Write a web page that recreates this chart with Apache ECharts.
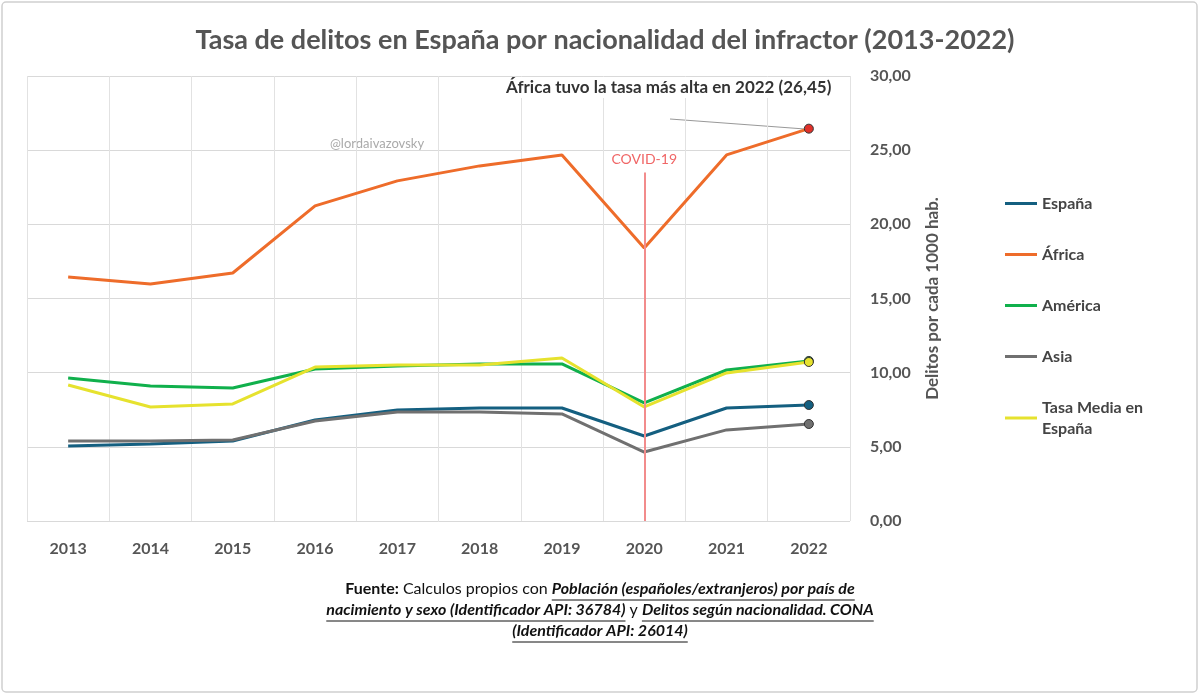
<!DOCTYPE html>
<html><head><meta charset="utf-8">
<script src="https://cdn.jsdelivr.net/npm/echarts@6/dist/echarts.min.js"></script>
<style>html,body{margin:0;background:#fff}#c{width:1200px;height:695px}</style>
</head><body><div id="c"></div>
<script>
const years = ['2013','2014','2015','2016','2017','2018','2019','2020','2021','2022'];
const espana = [5.06,5.19,5.39,6.81,7.48,7.62,7.62,5.73,7.62,7.82];
const africa = [16.45,15.98,16.72,21.24,22.93,23.94,24.68,18.41,24.68,26.45];
const america = [9.64,9.10,8.97,10.25,10.45,10.59,10.59,7.96,10.18,10.79];
const asia = [5.39,5.39,5.46,6.74,7.35,7.35,7.22,4.65,6.14,6.54];
const media = [9.17,7.69,7.89,10.38,10.52,10.52,10.99,7.69,9.98,10.72];

const chart = echarts.init(document.getElementById('c'));
const F = 'Lato, "Open Sans", sans-serif';
function line(name, data, color, lastColor){
  return {
    name, type:'line', data, symbol:'none',
    lineStyle:{color, width:3}, itemStyle:{color},
    markPoint:{symbol:'circle', symbolSize:9, label:{show:false},
      itemStyle:{color:lastColor||color, borderColor:'#333', borderWidth:1},
      data:[{coord:[years.length-1, data[data.length-1]]}]}
  };
}
const fmt = v => v.toFixed(2).replace('.', ',');

// footer: segments [text, style]
const footer = [
  [['Fuente:', 'b'], [' Calculos propios con ', 'n'], ['Población (españoles/extranjeros) por país de', 'u']],
  [['nacimiento y sexo (Identificador API: 36784)', 'u'], [' y ', 'n'], ['Delitos según nacionalidad. CONA', 'u']],
  [['(Identificador API: 26014)', 'u']]
];
const FS = 16;
const fonts = {b:'bold ' + FS + 'px Lato', n:FS + 'px Lato', u:'italic bold ' + FS + 'px Lato'};
const cx = document.createElement('canvas').getContext('2d');
const footG = [];
footer.forEach((segs, i) => {
  const ws = segs.map(s => { cx.font = fonts[s[1]]; return cx.measureText(s[0]).width; });
  const total = ws.reduce((a, b) => a + b, 0);
  let x = 600 - total / 2; const y = 581 + i * 21;
  segs.forEach((s, j) => {
    const st = s[1];
    footG.push({type:'text', left:x, top:y, style:{text:s[0], fill:'#111', fontSize:FS, fontFamily:F,
      fontWeight: st === 'n' ? 'normal' : 'bold', fontStyle: st === 'u' ? 'italic' : 'normal'}});
    if (st === 'u') footG.push({type:'line', shape:{x1:x, y1:y + 19, x2:x + ws[j], y2:y + 19}, style:{stroke:'#111', lineWidth:1}});
    x += ws[j];
  });
});

chart.setOption({
  backgroundColor:'#fff',
  textStyle:{fontFamily:F},
  title:{text:'Tasa de delitos en España por nacionalidad del infractor (2013-2022)', left:600, textAlign:'center', top:22,
    textStyle:{fontSize:27, fontWeight:'bold', color:'#555', fontFamily:F}},
  grid:{left:27, right:350, top:76, bottom:174},
  legend:{orient:'vertical', left:1000, top:188, itemGap:30, icon:'rect', itemWidth:32, itemHeight:3,
    textStyle:{fontSize:16, fontWeight:'bold', color:'#444', lineHeight:21},
    data:['España','África','América','Asia','Tasa Media en\nEspaña']},
  xAxis:{type:'category', data:years, boundaryGap:true,
    axisLine:{show:false}, axisTick:{show:false},
    splitLine:{show:true, lineStyle:{color:'#e2e2e2'}},
    axisLabel:{fontSize:16, fontWeight:'bold', color:'#555', margin:20}},
  yAxis:{type:'value', position:'right', min:0, max:30, interval:5,
    axisLabel:{formatter:fmt, fontSize:16, fontWeight:'bold', color:'#555', margin:20},
    splitLine:{lineStyle:{color:'#d9d9d9'}},
    name:'Delitos por cada 1000 hab.', nameLocation:'middle', nameGap:74, nameRotate:90,
    nameTextStyle:{fontSize:17, fontWeight:'bold', color:'#555'}},
  series:[
    line('España', espana, '#145f80'),
    Object.assign(line('África', africa, '#ee6c2a', '#e0312a'), {
      markLine:{symbol:'none', silent:true,
        lineStyle:{color:'#f28c8c', width:2, type:'solid'},
        label:{show:true, position:'end', formatter:'COVID-19', color:'#f06666', fontSize:14, distance:6},
        data:[[{coord:['2020',0]},{coord:['2020',23.5]}]]}
    }),
    line('América', america, '#10b04c'),
    line('Asia', asia, '#707070'),
    line('Tasa Media en\nEspaña', media, '#e6e22e')
  ],
  graphic:[
    {type:'rect', shape:{x:2, y:2, width:1195, height:690, r:4}, style:{fill:'none', stroke:'#d0d0d0', lineWidth:1.5}},
    {type:'text', left:330, top:137, style:{text:'@lordaivazovsky', fill:'#aaa', fontSize:13, fontFamily:F}},
    {type:'text', left:503, top:77, z:10, style:{text:'África tuvo la tasa más alta en 2022 (26,45)', fill:'#333', fontSize:17, fontWeight:'bold', fontFamily:F,
      backgroundColor:'#fff', padding:[2,3]}},
    {type:'line', shape:{x1:670, y1:119, x2:805, y2:129}, style:{stroke:'#999', lineWidth:1.2}}
  ].concat(footG)
});
</script></body></html>
